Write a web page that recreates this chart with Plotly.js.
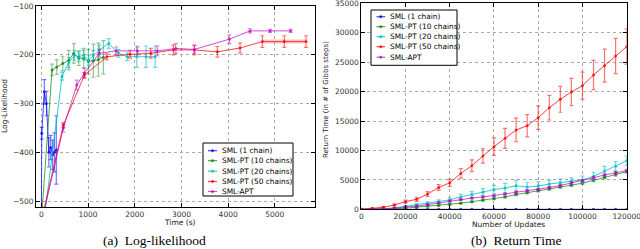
<!DOCTYPE html>
<html>
<head>
<meta charset="utf-8">
<script src="https://cdn.plot.ly/plotly-3.0.1.min.js"></script>
<style>html,body{margin:0;padding:0;background:#fff;}#chart{width:640px;height:249px;}</style>
</head>
<body>
<div id="chart"></div>
<script>
// ---------- (a) Log-likelihood ----------
const llTimeSML = [0, 8, 64, 110, 160, 200, 240, 280, 320];
const llSML     = [-560, -361, -276, -300, -400, -390, -405, -400, -395];
const llSMLErr  = [0, 12, 25, 25, 30, 25, 30, 40, 70];

const llTimePT10 = [0, 229, 330, 458, 587, 694, 800, 907, 1007, 1114, 1221, 1328];
const llPT10     = [-540, -231, -225, -218, -211, -197, -207, -207, -214, -212, -210, -205];
const llPT10Err  = [0, 12, 15, 15, 20, 20, 15, 20, 25, 34, 34, 34];

const llTimePT20 = [30, 443, 587, 708, 800, 907, 1014, 1114, 1243, 1443, 1650, 1842, 2043, 2243, 2437];
const llPT20     = [-560, -244, -216, -201, -204, -201, -211, -201, -190, -177, -197, -204, -204, -204, -204];
const llPT20Err  = [0, 8, 10, 10, 10, 10, 10, 10, 10, 10, 8, 8, 22, 22, 22];

const llTimePT50 = [0, 471, 921, 1400, 1900, 2343, 2828, 3277, 3769, 4255, 4733, 5203, 5668];
const llPT50     = [-540, -344, -242, -204, -199, -197, -190, -190, -194, -186, -173, -173, -173];
const llPT50Err  = [0, 5, 5, 6, 8, 10, 10, 10, 11, 10, 12, 12, 12];

const llTimeAPT = [0, 471, 758, 921, 1242, 1600, 2057, 2484, 2878, 3277, 4026, 4469, 4897, 5338];
const llAPT     = [-545, -350, -262, -238, -197, -192, -192, -192, -187, -189, -168, -151, -151, -151];
const llAPTErr  = [0, 8, 10, 10, 8, 8, 8, 10, 10, 8, 9, 4, 3, 3];

// ---------- (b) Return Time ----------
const updates = [0, 5000, 10000, 15000, 20000, 25000, 30000, 35000, 40000, 45000, 50000, 55000, 60000,
                 65000, 70000, 75000, 80000, 85000, 90000, 95000, 100000, 105000, 110000, 115000, 120000];
const rtSML     = [0,0,0,0,0,0,0,0,0,0,0,0,0,0,0,0,0,0,0,0,0,0,0,0,0];
const rtPT10    = [0, 10, 30, 100, 200, 350, 500, 650, 850, 1050, 1300, 1550, 1800, 2100, 2500, 2800, 3150, 3450, 3800, 4100, 4450, 4900, 5400, 5900, 6400];
const rtPT10Err = [0, 10, 20, 40, 60, 80, 100, 100, 120, 120, 150, 150, 150, 150, 180, 180, 180, 200, 200, 200, 200, 220, 220, 250, 250];
const rtPT20    = [0, 30, 100, 250, 500, 750, 1000, 1300, 1600, 2100, 2500, 2900, 3350, 3600, 4000, 3800, 3950, 4300, 4550, 4750, 5000, 5600, 6500, 7300, 8250];
const rtPT20Err = [0, 20, 50, 80, 120, 200, 250, 300, 350, 450, 500, 600, 700, 800, 900, 800, 700, 600, 600, 600, 650, 700, 800, 800, 800];
const rtPT50    = [0, 170, 340, 740, 1300, 1700, 2600, 3700, 4500, 6100, 7400, 9060, 10650, 12060, 13480, 14200, 15570, 17270, 18690, 19940, 21010, 22820, 24410, 26050, 27640];
const rtPT50Err = [0, 50, 100, 150, 250, 350, 400, 500, 600, 800, 1000, 1200, 1500, 1700, 2000, 1900, 2000, 2100, 2200, 2300, 2300, 2500, 2800, 3000, 3000];
const rtAPT     = [0, 20, 60, 200, 350, 550, 800, 1100, 1400, 1650, 1900, 2100, 2300, 2600, 2900, 3150, 3400, 3700, 4050, 4450, 4850, 5350, 5850, 6200, 6550];
const rtAPTErr  = [0, 10, 20, 40, 60, 80, 100, 100, 120, 120, 150, 150, 150, 150, 180, 180, 180, 200, 200, 200, 200, 220, 220, 250, 250];

const seriesNames = ['SML (1 chain)', 'SML-PT (10 chains)', 'SML-PT (20 chains)', 'SML-PT (50 chains)', 'SML-APT'];
const lineColors = ['rgba(0,0,255,0.75)', 'rgba(0,128,0,0.7)', 'rgba(0,191,191,0.8)', 'rgba(255,0,0,0.75)', 'rgba(191,0,191,0.7)'];
const errColors  = ['rgba(0,0,255,0.55)', 'rgba(0,128,0,0.45)', 'rgba(0,191,191,0.6)', 'rgba(255,0,0,0.55)', 'rgba(191,0,191,0.5)'];

const llX = [llTimeSML, llTimePT10, llTimePT20, llTimePT50, llTimeAPT];
const llY = [llSML, llPT10, llPT20, llPT50, llAPT];
const llE = [llSMLErr, llPT10Err, llPT20Err, llPT50Err, llAPTErr];
const rtY = [rtSML, rtPT10, rtPT20, rtPT50, rtAPT];
const rtE = [null, rtPT10Err, rtPT20Err, rtPT50Err, rtAPTErr];

const traces = [];
// faint wide band under the last segment of the 50-chain curve (as in the reference)
traces.push({
  type: 'scatter', mode: 'lines', x: llTimePT50.slice(-3), y: llPT50.slice(-3), xaxis: 'x', yaxis: 'y',
  showlegend: false, hoverinfo: 'skip', line: {color: 'rgba(255,0,0,0.22)', width: 4}
});
for (let i = 0; i < 5; i++) {
  traces.push({
    type: 'scatter', mode: 'lines+markers', name: seriesNames[i],
    x: llX[i], y: llY[i], xaxis: 'x', yaxis: 'y', showlegend: false,
    line: {color: lineColors[i], width: 1},
    marker: {color: lineColors[i], size: 3, symbol: 'circle'},
    error_y: {type: 'data', array: llE[i], visible: true, color: errColors[i], thickness: 1.2, width: 2},
    cliponaxis: true
  });
}
for (let i = 0; i < 5; i++) {
  const t = {
    type: 'scatter', mode: 'lines+markers', name: seriesNames[i],
    x: updates, y: rtY[i], xaxis: 'x2', yaxis: 'y2', showlegend: false,
    line: {color: lineColors[i], width: 1},
    marker: {color: lineColors[i], size: 3, symbol: 'circle'},
    cliponaxis: true
  };
  if (rtE[i]) t.error_y = {type: 'data', array: rtE[i], visible: true, color: errColors[i], thickness: 1.2, width: 2};
  traces.push(t);
}

const tickFont = {family: 'DejaVu Sans', size: 7.5, color: '#333'};
const axisBase = {
  showline: true, linecolor: '#000', linewidth: 1, mirror: 'ticks',
  ticks: 'inside', ticklen: 4, tickcolor: '#000',
  showgrid: true, gridcolor: '#aaa', griddash: 'dot', gridwidth: 1,
  zeroline: false, tickfont: tickFont, fixedrange: true, ticklabeloverflow: 'allow'
};

// manual legends (pixel geometry of the boxes)
const W = 640, H = 249;
const px = v => v / W, py = v => 1 - v / H;
const legends = [
  {box: [203, 143, 293, 196], rows: [150.7, 160.7, 171.2, 181.5, 191.5], line: [208, 217], textX: 220},
  {box: [371, 10, 457, 65.3], rows: [16.7, 26.7, 36.7, 46.7, 57.2], line: [376.5, 385], textX: 388}
];
const shapes = [];
const annotations = [];
legends.forEach(lg => {
  shapes.push({type: 'rect', xref: 'paper', yref: 'paper', x0: px(lg.box[0]), x1: px(lg.box[2]), y0: py(lg.box[3]), y1: py(lg.box[1]),
               line: {color: '#000', width: 1}, fillcolor: '#fff', layer: 'above'});
  lg.rows.forEach((ry, i) => {
    shapes.push({type: 'line', xref: 'paper', yref: 'paper', x0: px(lg.line[0]), x1: px(lg.line[1]), y0: py(ry), y1: py(ry),
                 line: {color: lineColors[i], width: 1.2}, layer: 'above'});
    const cx = (lg.line[0] + lg.line[1]) / 2;
    shapes.push({type: 'circle', xref: 'paper', yref: 'paper', x0: px(cx - 1.2), x1: px(cx + 1.2), y0: py(ry + 1.2), y1: py(ry - 1.2),
                 line: {color: lineColors[i], width: 0.5}, fillcolor: lineColors[i], layer: 'above'});
    annotations.push({text: seriesNames[i], xref: 'paper', yref: 'paper', x: px(lg.textX), y: py(ry), xanchor: 'left', yanchor: 'middle',
                      showarrow: false, font: {family: 'DejaVu Sans', size: 7.4, color: '#000'}});
  });
});

annotations.push(
  {text: 'Time (s)', xref: 'paper', yref: 'paper', x: px(180), y: py(222), xanchor: 'center', yanchor: 'middle', showarrow: false, font: {family: 'DejaVu Sans', size: 7.5, color: '#222'}},
  {text: 'Log-Likelihood', xref: 'paper', yref: 'paper', x: px(5), y: py(106), xanchor: 'center', yanchor: 'middle', textangle: -90, showarrow: false, font: {family: 'DejaVu Sans', size: 7.5, color: '#222'}},
  {text: 'Number of Updates', xref: 'paper', yref: 'paper', x: px(508), y: py(224), xanchor: 'center', yanchor: 'middle', showarrow: false, font: {family: 'DejaVu Sans', size: 7.5, color: '#222'}},
  {text: 'Return Time (in # of Gibbs steps)', xref: 'paper', yref: 'paper', x: px(326), y: py(100), xanchor: 'center', yanchor: 'middle', textangle: -90, showarrow: false, font: {family: 'DejaVu Sans', size: 7, color: '#222'}},
  {text: '(a)  Log-likelihood', xref: 'paper', yref: 'paper', x: px(154), y: py(240), xanchor: 'center', yanchor: 'middle', showarrow: false, font: {family: 'Liberation Serif', size: 13.5, color: '#000'}},
  {text: '(b)  Return Time', xref: 'paper', yref: 'paper', x: px(516), y: py(240), xanchor: 'center', yanchor: 'middle', showarrow: false, font: {family: 'Liberation Serif', size: 13.5, color: '#000'}}
);

const layout = {
  width: W, height: H,
  margin: {l: 0, r: 0, t: 0, b: 0},
  paper_bgcolor: '#fff', plot_bgcolor: '#fff',
  font: {family: 'DejaVu Sans', size: 7, color: '#000'},
  showlegend: false,
  xaxis: Object.assign({}, axisBase, {domain: [0.0563, 0.4922], range: [-114, 5860], tickvals: [0, 1000, 2000, 3000, 4000, 5000], anchor: 'y'}),
  yaxis: Object.assign({}, axisBase, {domain: [0.1687, 0.9759], range: [-512, -100], tickvals: [-500, -400, -300, -200, -100], anchor: 'x'}),
  xaxis2: Object.assign({}, axisBase, {domain: [0.5645, 0.9792], range: [0, 120000], tickvals: [0, 20000, 40000, 60000, 80000, 100000, 120000], tickformat: 'd', anchor: 'y2'}),
  yaxis2: Object.assign({}, axisBase, {domain: [0.1594, 0.9867], range: [0, 35000], tickvals: [0, 5000, 10000, 15000, 20000, 25000, 30000, 35000], tickformat: 'd', anchor: 'x2'}),
  shapes: shapes,
  annotations: annotations
};

Plotly.newPlot('chart', traces, layout, {displayModeBar: false, staticPlot: true});
</script>
</body>
</html>
